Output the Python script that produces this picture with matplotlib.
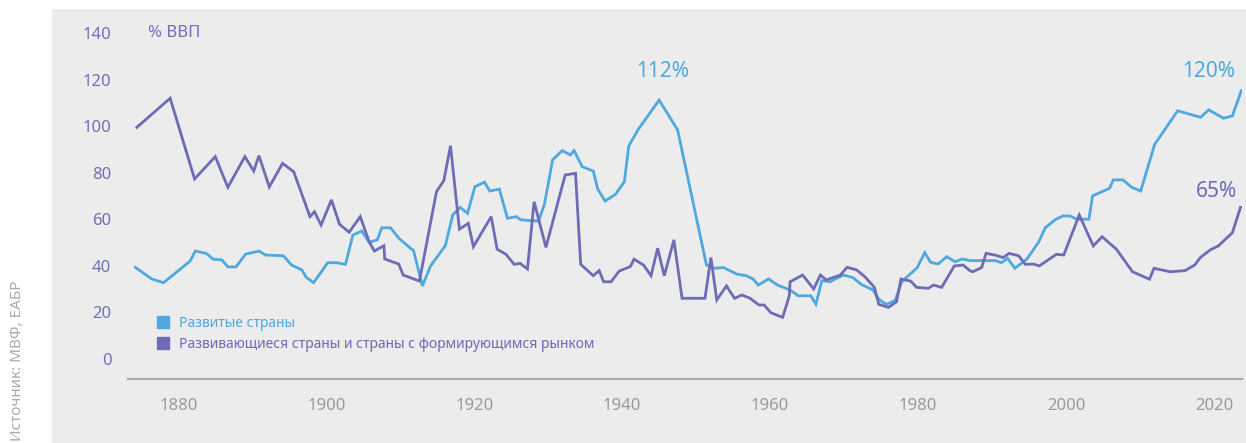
import matplotlib
matplotlib.use("Agg")
import matplotlib.pyplot as plt
from matplotlib.lines import Line2D
from matplotlib.patches import Rectangle

plt.rcParams['font.family'] = ['Noto Sans', 'DejaVu Sans']

# Госдолг, % ВВП
dev_years = [1874.2, 1876.4, 1878.0, 1881.6, 1882.3, 1883.8, 1884.7, 1885.9, 1886.7, 1887.8,
             1889.1, 1890.9, 1891.8, 1894.2, 1895.3, 1896.7, 1897.3, 1898.3, 1900.2, 1901.4,
             1902.6, 1903.6, 1904.8, 1905.8, 1906.9, 1907.5, 1908.7, 1909.9, 1911.4, 1911.8,
             1913.0, 1914.1, 1916.1, 1917.1, 1918.1, 1919.1, 1920.1, 1921.4, 1922.1, 1923.4,
             1924.5, 1925.7, 1926.3, 1928.7, 1929.5, 1930.6, 1931.9, 1933.0, 1933.5, 1934.6,
             1936.1, 1936.7, 1937.7, 1939.1, 1940.3, 1940.9, 1942.2, 1945.0, 1947.5, 1951.4,
             1952.4, 1953.7, 1955.5, 1956.8, 1957.7, 1958.4, 1959.8, 1961.0, 1962.7, 1963.8,
             1965.5, 1966.2, 1967.0, 1968.1, 1969.9, 1971.2, 1972.3, 1973.9, 1974.7, 1975.7,
             1976.9, 1977.8, 1979.9, 1980.9, 1981.7, 1982.7, 1983.9, 1985.0, 1986.0, 1987.0,
             1990.4, 1991.3, 1992.1, 1993.1, 1994.7, 1996.3, 1997.2, 1998.5, 1999.6, 2000.5,
             2001.5, 2003.1, 2003.6, 2005.9, 2006.4, 2007.7, 2008.9, 2010.1, 2012.0, 2015.1,
             2018.2, 2019.3, 2021.3, 2022.5, 2023.7]
dev_debt = [39.4, 34.4, 32.8, 42.1, 46.4, 45.4, 42.9, 42.6, 39.6, 39.6,
            45.1, 46.4, 44.7, 44.4, 40.4, 38.3, 35.1, 32.8, 41.4, 41.4,
            40.7, 53.3, 55.0, 50.2, 51.2, 56.4, 56.4, 51.6, 47.6, 46.6,
            31.4, 40.0, 48.7, 61.9, 65.2, 62.6, 74.1, 76.0, 72.2, 73.0,
            60.5, 61.2, 59.8, 59.3, 66.5, 85.6, 89.6, 87.7, 89.6, 82.7,
            80.8, 73.1, 67.9, 70.8, 76.2, 91.6, 98.8, 111.3, 98.5, 40.4,
            39.0, 39.3, 36.5, 35.8, 34.4, 31.8, 34.4, 31.8, 29.7, 27.2,
            27.2, 23.6, 33.7, 33.2, 36.1, 35.0, 32.1, 29.7, 25.7, 23.5,
            25.1, 33.2, 39.3, 45.7, 41.6, 40.8, 44.0, 41.8, 43.0, 42.3,
            42.3, 41.4, 43.3, 39.0, 42.9, 50.2, 56.4, 59.8, 61.5, 61.5,
            60.1, 60.1, 70.1, 73.4, 77.0, 77.0, 73.8, 72.2, 92.3, 106.7,
            103.9, 107.1, 103.5, 104.5, 115.3]

em_years = [1874.4, 1878.9, 1882.2, 1885.0, 1886.7, 1889.0, 1890.2, 1890.9, 1892.3, 1894.1,
            1895.6, 1897.8, 1898.4, 1899.3, 1900.7, 1901.8, 1903.1, 1904.6, 1905.8, 1906.5,
            1907.8, 1907.9, 1909.8, 1910.4, 1912.6, 1914.9, 1915.9, 1916.8, 1918.0, 1919.2,
            1919.9, 1922.3, 1923.1, 1924.3, 1925.4, 1926.2, 1927.2, 1928.1, 1929.7, 1932.3,
            1933.7, 1934.4, 1936.1, 1936.9, 1937.5, 1938.5, 1939.6, 1941.1, 1941.6, 1942.9,
            1943.9, 1944.8, 1945.7, 1947.0, 1948.1, 1951.2, 1952.0, 1952.8, 1954.1, 1955.2,
            1956.2, 1957.3, 1958.5, 1959.2, 1960.1, 1961.7, 1962.6, 1962.7, 1964.4, 1965.9,
            1966.8, 1967.6, 1969.5, 1970.4, 1971.7, 1972.8, 1974.1, 1974.7, 1976.0, 1977.1,
            1977.7, 1979.0, 1979.8, 1981.4, 1982.1, 1983.2, 1984.9, 1986.1, 1987.0, 1987.4,
            1988.6, 1989.2, 1990.4, 1991.5, 1992.3, 1993.6, 1994.5, 1995.6, 1996.4, 1998.7,
            1999.7, 2001.8, 2003.7, 2004.9, 2005.9, 2006.8, 2009.0, 2011.3, 2011.9, 2014.1,
            2016.1, 2017.4, 2018.2, 2019.5, 2020.6, 2022.5, 2023.6]
em_debt = [99.6, 112.1, 77.4, 87.0, 73.8, 87.0, 80.8, 87.4, 74.0, 84.1,
           80.5, 61.2, 63.3, 57.6, 68.4, 57.9, 54.5, 61.2, 50.4, 46.4,
           48.7, 43.0, 40.8, 36.1, 33.5, 71.9, 76.7, 91.7, 55.8, 58.3,
           48.3, 61.2, 47.2, 45.0, 40.7, 41.1, 38.7, 67.6, 48.0, 79.1,
           79.8, 40.7, 35.8, 38.0, 33.2, 33.2, 37.8, 39.7, 42.9, 40.4,
           35.8, 47.6, 35.8, 51.2, 26.1, 26.1, 43.6, 25.4, 31.4, 26.1,
           27.5, 26.1, 23.2, 23.2, 19.9, 17.9, 27.1, 33.2, 36.1, 30.1,
           36.1, 34.0, 36.1, 39.4, 38.3, 35.4, 30.8, 23.5, 22.2, 24.6,
           34.4, 33.5, 30.8, 30.4, 31.8, 30.8, 40.0, 40.4, 38.0, 37.5,
           39.3, 45.4, 44.7, 43.6, 45.4, 44.4, 40.7, 40.8, 40.0, 45.0,
           44.7, 61.9, 48.6, 52.6, 49.7, 47.3, 37.5, 34.3, 39.0, 37.5,
           38.0, 40.4, 43.7, 46.9, 48.6, 54.3, 65.2]

x_ticks = [1880, 1900, 1920, 1940, 1960, 1980, 2000, 2020]
y_ticks = [0, 20, 40, 60, 80, 100, 120, 140]

BLUE = '#4fa8de'
PURPLE = '#6d6cb4'
TICK_PURPLE = '#7170b8'
GREY_TXT = '#9a9a9a'
BG = '#ececec'

W, H = 1246, 443
fig = plt.figure(figsize=(W / 100, H / 100), dpi=100)
fig.patch.set_facecolor('white')
fig.patches.append(Rectangle((52 / W, 0), 1 - 52 / W, 1 - 9 / H,
                             transform=fig.transFigure, facecolor=BG,
                             edgecolor='none', zorder=-10))

ax = fig.add_axes([128 / W, 1 - 379 / H, (1242 - 128) / W, (379 - 21.7) / H])
ax.set_facecolor('none')
ax.set_zorder(1)
ax.set_xlim(1873.2, 2023.8)
ax.set_ylim(-8.6, 145)

ax.plot(dev_years, dev_debt, color=BLUE, lw=2.0, solid_joinstyle='miter', zorder=3)
ax.plot(em_years, em_debt, color=PURPLE, lw=2.0, solid_joinstyle='miter', zorder=3)

for s in ['top', 'right', 'left']:
    ax.spines[s].set_visible(False)
ax.spines['bottom'].set_color('#a9a9a9')
ax.spines['bottom'].set_linewidth(1.6)

ax.set_xticks(x_ticks)
ax.set_xticklabels([str(t) for t in x_ticks])
ax.set_yticks(y_ticks)
ax.set_yticklabels([str(t) for t in y_ticks])
ax.tick_params(axis='x', length=0, pad=14, labelsize=12, labelcolor=GREY_TXT)
ax.tick_params(axis='y', length=0, pad=12, labelsize=12, labelcolor=TICK_PURPLE)

ax.text(148 / W, 1 - 33 / H, '% ВВП', transform=fig.transFigure, color=TICK_PURPLE,
        fontsize=12, ha='left', va='center')

ax.text(1945.5, 123.4, '112%', color=BLUE, fontsize=15, ha='center', va='center')
ax.text(2019.3, 123.4, '120%', color=BLUE, fontsize=15, ha='center', va='center')
ax.text(2020.3, 71.9, '65%', color=PURPLE, fontsize=15, ha='center', va='center')

handles = [Line2D([], [], marker='s', ls='none', color=BLUE, markersize=8),
           Line2D([], [], marker='s', ls='none', color=PURPLE, markersize=8)]
leg = ax.legend(handles, ['Развитые страны',
                          'Развивающиеся страны и страны с формирующимся рынком'],
                loc='upper left', bbox_to_anchor=(157 / W, 1 - 316 / H),
                bbox_transform=fig.transFigure, frameon=False, fontsize=10,
                handlelength=0.8, handletextpad=0.75, labelspacing=0.45,
                borderpad=0, borderaxespad=0)
for txt, c in zip(leg.get_texts(), [BLUE, PURPLE]):
    txt.set_color(c)

fig.text(18 / W, 0.004, 'Источник: МВФ, ЕАБР', rotation=90, color='#ababab',
         fontsize=11, ha='center', va='bottom')

fig.savefig('out.png', dpi=100)
